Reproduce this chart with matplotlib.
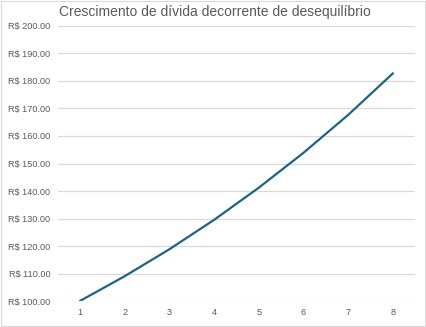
import matplotlib.pyplot as plt
import matplotlib.patches as mpatches

periods = [1, 2, 3, 4, 5, 6, 7, 8]
debt = [100.0, 109.0, 118.8, 129.5, 141.2, 153.9, 167.7, 182.8]
yticks = list(range(100, 201, 10))
ylabels = ['R$ %.2f' % v for v in yticks]

plt.rcParams['font.family'] = ['Liberation Sans', 'DejaVu Sans']

fig = plt.figure(figsize=(4.26, 3.27), dpi=100)
ax = fig.add_axes([0.135, 0.0795, 0.84, 0.841])

ax.plot(periods, debt, color='#1b6388', linewidth=1.6, solid_capstyle='round')

ax.set_xlim(0.5, 8.5)
ax.set_ylim(100, 200)
ax.set_xticks(periods)
ax.set_yticks(yticks)
ax.set_yticklabels(ylabels)
ax.tick_params(axis='both', length=0, labelsize=6.6, labelcolor='#595959')
ax.tick_params(axis='x', pad=5)
ax.tick_params(axis='y', pad=5)
ax.grid(axis='y', color='#d9d9d9', linewidth=0.9)
ax.set_axisbelow(True)
for s in ax.spines.values():
    s.set_visible(False)

fig.text(0.505, 0.963, 'Crescimento de dívida decorrente de desequilíbrio',
         ha='center', va='center', fontsize=10, color='#595959')

# light frame round the chart
fig.patches.append(mpatches.Rectangle((0.002, 0.003), 0.995, 0.994, transform=fig.transFigure,
                                      fill=False, edgecolor='#d9d9d9', linewidth=0.8))

fig.savefig('out.png', dpi=100)
